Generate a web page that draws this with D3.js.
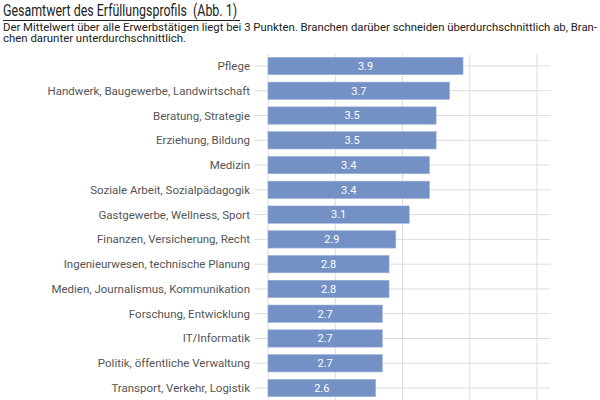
<!DOCTYPE html>
<html>
<head>
<meta charset="utf-8">
<script src="https://cdn.jsdelivr.net/npm/d3@7"></script>
<style>
  body { margin: 0; background: #fff; }
  svg { display: block; font-family: Roboto, "Liberation Sans", sans-serif; }
</style>
</head>
<body>
<div id="wrapper"></div>
<script>
const categories = [
    "Pflege",
    "Handwerk, Baugewerbe, Landwirtschaft",
    "Beratung, Strategie",
    "Erziehung, Bildung",
    "Medizin",
    "Soziale Arbeit, Sozialpädagogik",
    "Gastgewerbe, Wellness, Sport",
    "Finanzen, Versicherung, Recht",
    "Ingenieurwesen, technische Planung",
    "Medien, Journalismus, Kommunikation",
    "Forschung, Entwicklung",
    "IT/Informatik",
    "Politik, öffentliche Verwaltung",
    "Transport, Verkehr, Logistik"
];
const values = [3.9, 3.7, 3.5, 3.5, 3.4, 3.4, 3.1, 2.9, 2.8, 2.8, 2.7, 2.7, 2.7, 2.6];
const xTicks = [1, 2, 3, 4, 5];

const titleText = "Gesamtwert des Erfüllungsprofils  (Abb. 1)";
const subtitleLines = [
    "Der Mittelwert über alle Erwerbstätigen liegt bei 3 Punkten. Branchen darüber schneiden überdurchschnittlich ab, Bran-",
    "chen darunter unterdurchschnittlich."
];

let dimensions = {
    width: 600,
    height: 400,
    plotTop: 53.6,
    plotBottom: 400.4
}

const dataset = categories.map((c, i) => ({ name: c, value: values[i] }));

const wrapper = d3.select("#wrapper").append("svg")
    .attr("width", dimensions.width)
    .attr("height", dimensions.height);

// title + note
wrapper.append("text")
    .attr("x", 3)
    .attr("y", 16)
    .attr("font-size", 16.5)
    .attr("fill", "#222")
    .attr("textLength", 234)
    .attr("lengthAdjust", "spacingAndGlyphs")
    .style("white-space", "pre")
    .text(titleText);
wrapper.append("line")
    .attr("x1", 3).attr("x2", 240)
    .attr("y1", 20.5).attr("y2", 20.5)
    .attr("stroke", "#222")
    .attr("stroke-width", 1);

wrapper.selectAll(".sub")
    .data(subtitleLines)
    .enter()
    .append("text")
    .attr("class", "sub")
    .attr("x", 3)
    .attr("y", (d, i) => 30.5 + i * 11.5)
    .attr("font-size", 10.5)
    .attr("fill", "#222")
    .attr("textLength", (d, i) => i === 0 ? 594 : 183)
    .attr("lengthAdjust", "spacingAndGlyphs")
    .text(d => d);

const xScaler = d3.scaleLinear()
    .domain([1, 5])
    .range([268, 537]);

const yScaler = d3.scaleBand()
    .domain(categories)
    .range([dimensions.plotTop, dimensions.plotBottom])
    .paddingInner(0.3)
    .paddingOuter(0.15);

const grid = wrapper.append("g");

// vertical gridlines
grid.selectAll(".vgrid")
    .data(xTicks)
    .enter()
    .append("line")
    .attr("class", "vgrid")
    .attr("x1", d => xScaler(d))
    .attr("x2", d => xScaler(d))
    .attr("y1", dimensions.plotTop + 1)
    .attr("y2", dimensions.plotBottom)
    .attr("stroke", "#dcdcdc")
    .attr("stroke-width", 1);

// horizontal lines through each category
grid.selectAll(".hgrid")
    .data(categories)
    .enter()
    .append("line")
    .attr("class", "hgrid")
    .attr("x1", xScaler(0.8))
    .attr("x2", xScaler(5.2))
    .attr("y1", d => yScaler(d) + yScaler.bandwidth() / 2)
    .attr("y2", d => yScaler(d) + yScaler.bandwidth() / 2)
    .attr("stroke", "#dcdcdc")
    .attr("stroke-width", 1);

// bars
wrapper.selectAll(".bar")
    .data(dataset)
    .enter()
    .append("rect")
    .attr("class", "bar")
    .attr("x", xScaler(1))
    .attr("y", d => yScaler(d.name))
    .attr("width", d => xScaler(d.value) - xScaler(1))
    .attr("height", yScaler.bandwidth())
    .attr("fill", "#7391c5")
    .attr("stroke", "#9cb0d8")
    .attr("stroke-width", 0.6);

// value labels
wrapper.selectAll(".val")
    .data(dataset)
    .enter()
    .append("text")
    .attr("class", "val")
    .attr("x", d => (xScaler(d.value) + xScaler(1)) / 2)
    .attr("y", d => yScaler(d.name) + yScaler.bandwidth() / 2)
    .attr("dy", "0.35em")
    .attr("text-anchor", "middle")
    .attr("font-size", 11)
    .attr("fill", "#fff")
    .text(d => d.value.toFixed(1));

// category labels
wrapper.selectAll(".cat")
    .data(categories)
    .enter()
    .append("text")
    .attr("class", "cat")
    .attr("x", 250)
    .attr("y", d => yScaler(d) + yScaler.bandwidth() / 2)
    .attr("dy", "0.35em")
    .attr("text-anchor", "end")
    .attr("font-size", 11.5)
    .attr("fill", "#555")
    .text(d => d);
</script>
</body>
</html>
